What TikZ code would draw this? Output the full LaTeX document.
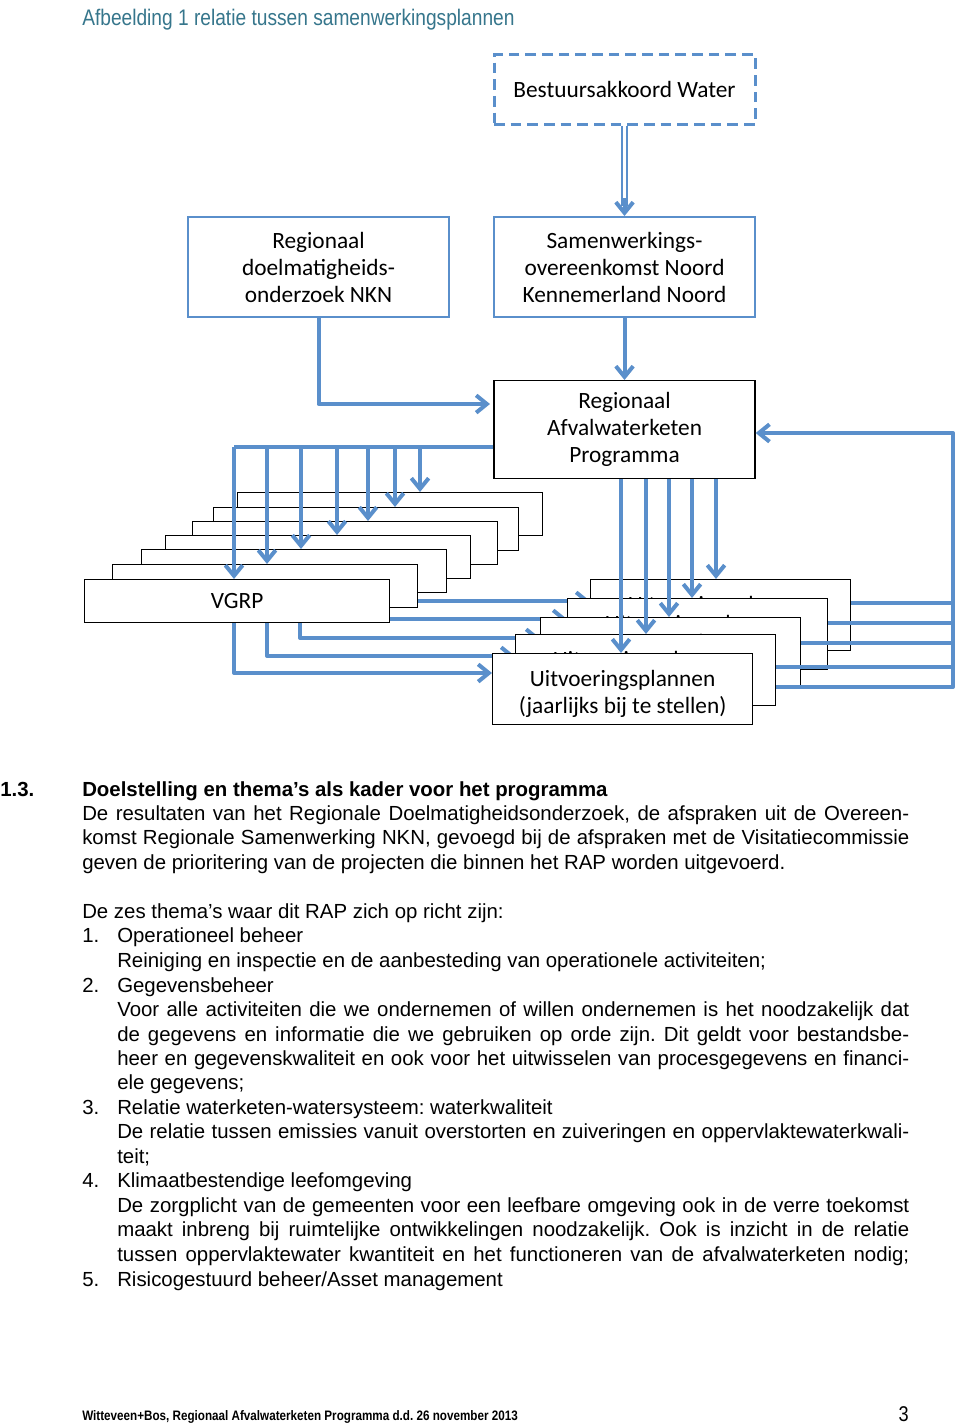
\documentclass[tikz,border=0pt]{standalone}
\usepackage{fontspec}
\setmainfont{Liberation Sans}
\newfontfamily\diagfont{Carlito}
\newfontfamily\narrowfont[FakeStretch=0.85]{Liberation Sans}
\usetikzlibrary{positioning,arrows.meta,calc}
\definecolor{linkblue}{RGB}{90,143,203}
\definecolor{captionblue}{RGB}{54,118,140}
\newcommand\jpara[1]{\makebox[620.25pt][s]{#1}}
\newcommand\jitem[1]{\makebox[594pt][s]{#1}}
\frenchspacing
\tikzset{
  boxfont/.style={font=\diagfont\fontsize{17.5}{20.25}\selectfont},
  blockbox/.style={draw, rectangle, line width=1pt, fill=white, boxfont, align=center, inner sep=0pt, minimum width=195.75pt},
  bluebox/.style={blockbox, draw=linkblue, line width=1.5pt, minimum height=75pt},
  dashbox/.style={bluebox, line width=2.25pt, dash pattern=on 8pt off 4.5pt, minimum height=52.5pt},
  stackbox/.style={blockbox, anchor=north west, minimum width=228.75pt, minimum height=32.25pt},
  planbox/.style={blockbox, anchor=north west, minimum width=195pt, minimum height=53.25pt},
  bline/.style={draw=linkblue, line width=3pt, line join=round},
  conn/.style={bline, -{Straight Barb[length=8pt,width=13pt]}},
  dbl/.style={draw=linkblue, line width=1.4pt, double=white, double distance=2.2pt},
  bodytxt/.style={anchor=base west, inner sep=0pt, font=\fontsize{15.3}{18.4}\selectfont}
}
\begin{document}
\begin{tikzpicture}[x=0.75pt, y=-0.75pt, node distance=32.25pt]
\fill[white] (0,0) rectangle (960,1424);
\useasboundingbox (0,0) rectangle (960,1424);

\node[anchor=base west, inner sep=0pt, text=captionblue, font=\narrowfont\fontsize{16.9}{20}\selectfont] (caption) at (82,25) {Afbeelding 1 relatie tussen samenwerkingsplannen};

% upper part of the scheme
\node[bluebox] (rdo) at (318.5,267) {Regionaal\\doelmatigheids-\\onderzoek NKN};
\node[bluebox, right=of rdo] (swk) {Samenwerkings-\\overeenkomst Noord\\Kennemerland Noord};
\node[dashbox, above=67.5pt of swk] (bsw) {Bestuursakkoord Water};
\node[blockbox, below=46.5pt of swk, minimum height=73.5pt] (rap) {Regionaal\\Afvalwaterketen\\Programma};

\draw[dbl] (bsw.south) -- ($(swk.north)+(0,-10)$);
\draw[conn] ($(swk.north)+(0,-18)$) -- (swk.north);
\draw[conn] (swk.south) -- (swk.south |- rap.north);
\coordinate (rapin) at (490,404);
\draw[conn] (rdo.south) |- (rapin);

% lines that run behind the stacked boxes
\coordinate (split) at (234,447);
\draw[bline] (rap.west |- split) -- (split);
\draw[conn] (234,0 |- 0,622) |- (492,673);
\draw[conn] (267,0 |- 0,622) |- (515,656);
\draw[conn] (300,0 |- 0,622) |- (540,638);
\draw[conn] (389,619) -- (567,619);
\draw[conn] (416,601) -- (590,601);

% stacked VGRP boxes
\foreach \i/\l/\t in {7/237/492,6/213/507,5/192/521,4/165/535,3/141/549,2/112/564}
  \node[stackbox] (vgrp\i) at (\l,\t) {};
\node[stackbox] (vgrp1) at (84,579) {VGRP};

% stacked Uitvoeringsplannen boxes
\foreach \i/\l/\t in {5/590/579,4/567/598,3/540/617,2/515/634,1/492/653}
  \node[planbox] (uitv\i) at (\l,\t) {\rule{0pt}{19pt}Uitvoeringsplannen\\(jaarlijks bij te stellen)};

\foreach \i/\x in {1/234,2/267,3/301,4/337,5/368,6/395,7/420}
  \draw[conn] (split -| \x,0) -- (\x,0 |- vgrp\i.north);
\foreach \i/\x in {1/621,2/646,3/669,4/692,5/716}
  \draw[conn] (\x,0 |- rap.south) -- (\x,0 |- uitv\i.north);

% feedback to the programme
\coordinate (ret) at (953,687);
\foreach \i/\y in {5/603,4/623,3/643,2/667}
  \draw[bline] (uitv\i.east |- 0,\y) -- (ret |- 0,\y);
\draw[conn] (uitv2.east |- ret) -- (ret) -- (ret |- 0,433) -- (rap.east |- 0,433);

% text below the scheme
\node[bodytxt] (secnr) at (0,796) {\bfseries 1.3.};
\node[bodytxt] (sechead) at (82,796) {\bfseries Doelstelling en thema’s als kader voor het programma};
\node[bodytxt] (p1) at (82,820) {\jpara{De resultaten van het Regionale Doelmatigheidsonderzoek, de afspraken uit de Overeen-}};
\node[bodytxt] (p2) at (82,844) {\jpara{komst Regionale Samenwerking NKN, gevoegd bij de afspraken met de Visitatiecommissie}};
\node[bodytxt] (p3) at (82,869) {geven de prioritering van de projecten die binnen het RAP worden uitgevoerd.};
\node[bodytxt] (intro) at (82,918) {De zes thema’s waar dit RAP zich op richt zijn:};

\node[bodytxt] (n1) at (82,942) {1.};
\node[bodytxt] (t1) at (117,942) {Operationeel beheer};
\node[bodytxt] (t1a) at (117,967) {Reiniging en inspectie en de aanbesteding van operationele activiteiten;};
\node[bodytxt] (n2) at (82,992) {2.};
\node[bodytxt] (t2) at (117,992) {Gegevensbeheer};
\node[bodytxt] (t2a) at (117,1016) {\jitem{Voor alle activiteiten die we ondernemen of willen ondernemen is het noodzakelijk dat}};
\node[bodytxt] (t2b) at (117,1041) {\jitem{de gegevens en informatie die we gebruiken op orde zijn. Dit geldt voor bestandsbe-}};
\node[bodytxt] (t2c) at (117,1065) {\jitem{heer en gegevenskwaliteit en ook voor het uitwisselen van procesgegevens en financi-}};
\node[bodytxt] (t2d) at (117,1089) {ele gegevens;};
\node[bodytxt] (n3) at (82,1114) {3.};
\node[bodytxt] (t3) at (117,1114) {Relatie waterketen-watersysteem: waterkwaliteit};
\node[bodytxt] (t3a) at (117,1138) {\jitem{De relatie tussen emissies vanuit overstorten en zuiveringen en oppervlaktewaterkwali-}};
\node[bodytxt] (t3b) at (117,1163) {teit;};
\node[bodytxt] (n4) at (82,1187) {4.};
\node[bodytxt] (t4) at (117,1187) {Klimaatbestendige leefomgeving};
\node[bodytxt] (t4a) at (117,1212) {\jitem{De zorgplicht van de gemeenten voor een leefbare omgeving ook in de verre toekomst}};
\node[bodytxt] (t4b) at (117,1236) {\jitem{maakt inbreng bij ruimtelijke ontwikkelingen noodzakelijk. Ook is inzicht in de relatie}};
\node[bodytxt] (t4c) at (117,1261) {\jitem{tussen oppervlaktewater kwantiteit en het functioneren van de afvalwaterketen nodig;}};
\node[bodytxt] (n5) at (82,1286) {5.};
\node[bodytxt] (t5) at (117,1286) {Risicogestuurd beheer/Asset management};

% footer
\node[anchor=base west, inner sep=0pt, font=\narrowfont\bfseries\fontsize{10.3}{12}\selectfont] (footer) at (82,1420) {Witteveen+Bos, Regionaal Afvalwaterketen Programma d.d. 26 november 2013};
\node[anchor=base east, inner sep=0pt, font=\narrowfont\fontsize{16}{18}\selectfont] (pagenr) at (909,1421) {3};
\end{tikzpicture}
\end{document}
